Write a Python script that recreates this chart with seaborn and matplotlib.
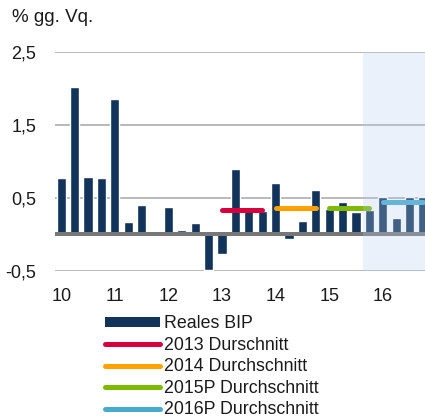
import matplotlib
matplotlib.use("Agg")
import matplotlib.pyplot as plt
import seaborn as sns
import numpy as np
import pandas as pd
from matplotlib.patches import Patch

sns.set_style("white")
plt.rcParams['font.family'] = ['Liberation Sans', 'DejaVu Sans']

# Quarterly real GDP growth, % vs previous quarter (2010Q1 - 2016Q4)
years = ['10', '11', '12', '13', '14', '15', '16']
quarters = [f"{y}Q{q}" for y in years for q in range(1, 5)]
gdp = [0.77, 2.02, 0.79, 0.78,
       1.85, 0.17, 0.40, 0.00,
       0.38, 0.06, 0.16, -0.49,
       -0.27, 0.90, 0.37, 0.32,
       0.71, -0.06, 0.18, 0.61,
       0.35, 0.44, 0.31, 0.34,
       0.51, 0.23, 0.52, 0.52]
avg_labels = ['2013 Durschnitt', '2014 Durchschnitt', '2015P Durchschnitt', '2016P Durchschnitt']
avg_years = ['13', '14', '15', '16']
avg_colors = ['#d7003c', '#ffa200', '#7dba00', '#45acd0']
y_ticks = [-0.5, 0.5, 1.5, 2.5]
forecast_start = '15Q4'

navy = '#12345a'
df = pd.DataFrame({'quarter': quarters, 'gdp': gdp})

fig = plt.figure(figsize=(4.25, 4.19), dpi=100)
ax = fig.add_axes([54.5 / 425, 1 - 271 / 419, 1 - 54.5 / 425, (271 - 52) / 419])

sns.barplot(data=df, x='quarter', y='gdp', color=navy, width=0.68,
            saturation=1, ax=ax, zorder=2)

# yearly averages
lines = []
for yr, lab, col in zip(avg_years, avg_labels, avg_colors):
    idx = [i for i, q in enumerate(quarters) if q.startswith(yr)]
    m = np.mean([gdp[i] for i in idx])
    ln, = ax.plot([idx[0], idx[-1]], [m, m], color=col, lw=3.6,
                  solid_capstyle='round', zorder=3, label=lab)
    lines.append(ln)

ax.axhline(0, color='#777777', lw=2.9, zorder=2.5)

# forecast shading
fs = quarters.index(forecast_start) - 0.5
ax.axvspan(fs, len(quarters), color='#b5cfee', alpha=0.28, lw=0, zorder=4)

ax.set_ylim(-0.5, 2.5)
ax.set_xlim(-0.5, len(quarters) - 0.85)
ax.set_yticks(y_ticks)
ax.set_yticklabels([f"{v:.1f}".replace('.', ',') for v in y_ticks])
ax.set_xticks([quarters.index(y + 'Q1') for y in years])
ax.set_xticklabels(years)
ax.set_xlabel('')
ax.set_ylabel('')
ax.grid(axis='y', color='#a6a6a6', lw=1.1, zorder=0)
ax.set_axisbelow(True)
for s in ax.spines.values():
    s.set_visible(False)
ax.tick_params(axis='both', length=0, labelsize=13, colors='#1a1a1a')
ax.tick_params(axis='y', pad=13)
ax.tick_params(axis='x', pad=12)

fig.text(12 / 425, 1 - 9 / 419, '% gg. Vq.', fontsize=13.5, va='top', ha='left', color='#1a1a1a')

handles = [Patch(facecolor=navy, edgecolor='none')] + lines
labels = ['Reales BIP'] + avg_labels
fig.legend(handles, labels, loc='upper left', bbox_to_anchor=(105 / 425, 1 - 315 / 419),
           frameon=False, fontsize=12.8, borderpad=0, borderaxespad=0,
           labelspacing=0.26, handlelength=3.1, handletextpad=0.2, handleheight=0.5,
           labelcolor='#1a1a1a')

fig.savefig('out.png', dpi=100)
